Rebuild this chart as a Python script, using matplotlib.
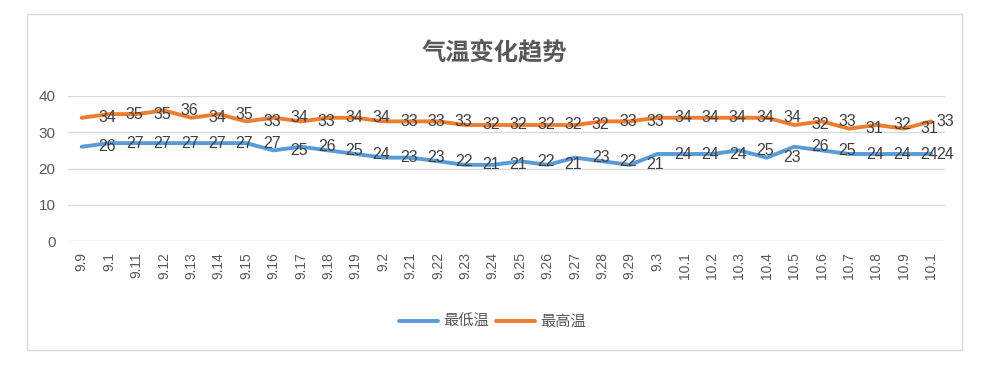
import matplotlib
matplotlib.use("Agg")
import matplotlib.pyplot as plt
from matplotlib.patches import Rectangle

dates = ["9.9", "9.1", "9.11", "9.12", "9.13", "9.14", "9.15", "9.16", "9.17", "9.18",
         "9.19", "9.2", "9.21", "9.22", "9.23", "9.24", "9.25", "9.26", "9.27", "9.28",
         "9.29", "9.3", "10.1", "10.2", "10.3", "10.4", "10.5", "10.6", "10.7", "10.8",
         "10.9", "10.1"]
low_temp = [26, 27, 27, 27, 27, 27, 27, 25, 26, 25, 24, 23, 23, 22, 21, 21, 22, 21, 23, 22,
            21, 24, 24, 24, 25, 23, 26, 25, 24, 24, 24, 24]
high_temp = [34, 35, 35, 36, 34, 35, 33, 34, 33, 34, 34, 33, 33, 33, 32, 32, 32, 32, 32, 33,
             33, 34, 34, 34, 34, 34, 32, 33, 31, 32, 31, 33]
series_names = ["最低温", "最高温"]
y_ticks = [0, 10, 20, 30, 40]

plt.rcParams['font.family'] = ['Liberation Sans', 'Noto Sans CJK SC', 'DejaVu Sans']

fig = plt.figure(figsize=(10, 3.65), dpi=100)
fig.patches.append(Rectangle((0.027, 0.041), 0.935, 0.9205, transform=fig.transFigure,
                             fill=False, edgecolor='#D9D9D9', linewidth=1.0))

ax = fig.add_axes([0.068, 0.3397, 0.877, 0.3973])
x = list(range(len(dates)))
blue = '#5B9BD5'
orange = '#ED7D31'
ax.plot(x, low_temp, color=blue, linewidth=2.8, label=series_names[0], solid_capstyle='round')
ax.plot(x, high_temp, color=orange, linewidth=2.8, label=series_names[1], solid_capstyle='round')

n = len(x)
for series in (low_temp, high_temp):
    for xi, v in zip(x, series):
        off = 18.5 if xi < n - 1 else 10
        ax.annotate(str(v), (xi, v), xytext=(off, 0), textcoords='offset points',
                    ha='center', va='center', fontsize=11.5, color='#404040')

ax.set_xlim(-0.5, len(dates) - 0.5)
ax.set_ylim(0, 40)
ax.set_yticks(y_ticks)
ax.set_xticks(x)
ax.set_xticklabels(dates, rotation=90)
ax.tick_params(axis='both', length=0, labelcolor='#595959')
ax.tick_params(axis='y', pad=9, labelsize=11)
ax.tick_params(axis='x', pad=8, labelsize=10)
ax.grid(axis='y', color='#D9D9D9', linewidth=1.0)
ax.set_axisbelow(True)
for s in ax.spines.values():
    s.set_visible(False)

fig.text(0.494, 0.856, "气温变化趋势", ha='center', va='center', fontsize=17.5,
         fontweight='bold', color='#595959')

fig.legend(loc='center', bbox_to_anchor=(0.4925, 0.118), ncol=2, frameon=False,
           fontsize=11, handlelength=2.6, columnspacing=0.4, handletextpad=0.35,
           labelcolor='#595959')

fig.savefig("out.png", dpi=100)
